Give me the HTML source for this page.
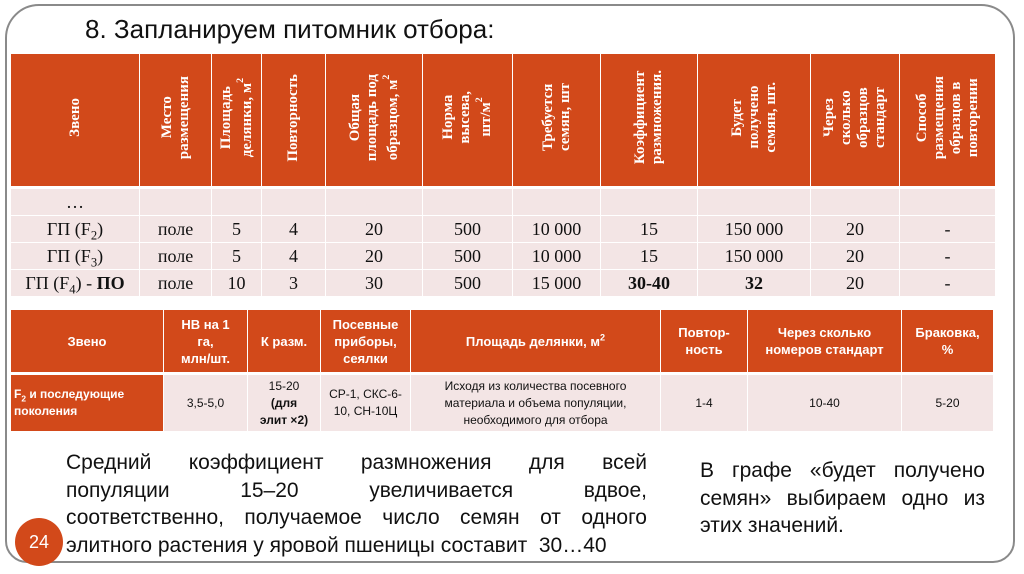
<!DOCTYPE html>
<html><head><meta charset="utf-8"><style>
body{margin:0;width:1024px;height:574px;background:#fff;position:relative;overflow:hidden;font-family:"Liberation Serif",serif}
.frame{position:absolute;left:5px;top:4px;width:1010px;height:559px;border:2px solid #8a8a8a;border-radius:34px 34px 22px 22px;box-sizing:border-box}
.title{position:absolute;left:85px;top:14px;font-family:"Liberation Sans",sans-serif;font-size:26px;color:#111}
table{position:absolute;border-collapse:collapse;table-layout:fixed}
td{padding:0;text-align:center;border:1px solid #fff}
sub,sup{line-height:0;font-size:70%}
.v sup{line-height:normal;font-size:65%;vertical-align:super}
#t1{left:10px;top:53px;width:985px}
#t1 .h td{background:#d2491a;color:#fff;font-weight:bold;font-size:15px;height:132px;border-bottom:3px solid #fff}
.v{writing-mode:vertical-rl;transform:rotate(180deg);display:inline-block;line-height:17px;text-align:center}
#t1 .b td{background:#f3e5e5;font-size:18px;height:26px;border:1px solid #fff;color:#111}
#t2{left:10px;top:309px;width:983px;font-family:"Liberation Sans Narrow","Liberation Sans",sans-serif}
#t2 .h td{background:#d2491a;color:#fff;font-weight:bold;font-size:13px;height:62px;border-bottom:3px solid #fff;line-height:17px}
#t2 .b td{background:#f3e5e5;font-size:12px;height:56px;line-height:17px;color:#111}
.p{position:absolute;font-family:"Liberation Sans Narrow","Liberation Sans",sans-serif;font-size:21px;line-height:27.5px;color:#111}
.p span{display:block;text-align:justify;text-align-last:justify;white-space:nowrap}
.p span.l{text-align-last:left}
.circ{position:absolute;left:15px;top:518px;width:48px;height:48px;border-radius:50%;background:#d2491a;color:#fff;font-family:"Liberation Sans Narrow","Liberation Sans",sans-serif;font-size:18px;text-align:center;line-height:48px}
</style></head><body>
<div class="frame"></div>
<div class="title">8. Запланируем питомник отбора:</div>
<table id="t1">
<colgroup><col style="width:129px"><col style="width:72px"><col style="width:50px"><col style="width:64px"><col style="width:97px"><col style="width:90px"><col style="width:88px"><col style="width:97px"><col style="width:113px"><col style="width:89px"><col style="width:96px"></colgroup>
<tr class="h">
<td><span class="v">Звено</span></td>
<td><span class="v">Место<br>размещения</span></td>
<td><span class="v">Площадь<br>делянки, м<sup>2</sup></span></td>
<td><span class="v">Повторность</span></td>
<td><span class="v">Общая<br>площадь под<br>образцом, м<sup>2</sup></span></td>
<td><span class="v">Норма<br>высева,<br>шт/м<sup>2</sup></span></td>
<td><span class="v">Требуется<br>семян, шт</span></td>
<td><span class="v">Коэффициент<br>размножения.</span></td>
<td><span class="v">Будет<br>получено<br>семян, шт.</span></td>
<td><span class="v">Через<br>сколько<br>образцов<br>стандарт</span></td>
<td><span class="v">Способ<br>размещения<br>образцов в<br>повторении</span></td>
</tr>
<tr class="b"><td>…</td><td></td><td></td><td></td><td></td><td></td><td></td><td></td><td></td><td></td><td></td></tr>
<tr class="b"><td>ГП (F<sub>2</sub>)</td><td>поле</td><td>5</td><td>4</td><td>20</td><td>500</td><td>10 000</td><td>15</td><td>150 000</td><td>20</td><td>-</td></tr>
<tr class="b"><td>ГП (F<sub>3</sub>)</td><td>поле</td><td>5</td><td>4</td><td>20</td><td>500</td><td>10 000</td><td>15</td><td>150 000</td><td>20</td><td>-</td></tr>
<tr class="b"><td>ГП (F<sub>4</sub>) - <b>ПО</b></td><td>поле</td><td>10</td><td>3</td><td>30</td><td>500</td><td>15 000</td><td><b>30-40</b></td><td><b>32</b></td><td>20</td><td>-</td></tr>
</table>
<table id="t2">
<colgroup><col style="width:153px"><col style="width:84px"><col style="width:73px"><col style="width:90px"><col style="width:250px"><col style="width:87px"><col style="width:154px"><col style="width:92px"></colgroup>
<tr class="h"><td>Звено</td><td>НВ на 1<br>га,<br>млн/шт.</td><td>К разм.</td><td>Посевные<br>приборы,<br>сеялки</td><td>Площадь делянки, м<sup>2</sup></td><td>Повтор-<br>ность</td><td>Через сколько<br>номеров стандарт</td><td>Браковка,<br>%</td></tr>
<tr class="b"><td style="background:#d2491a;color:#fff;font-weight:bold;text-align:left;padding-left:3px">F<sub>2</sub> и последующие<br>поколения</td><td>3,5-5,0</td><td>15-20<br><b>(для<br>элит ×2)</b></td><td>СР-1, СКС-6-<br>10, СН-10Ц</td><td>Исходя из количества посевного<br>материала и объема популяции,<br>необходимого для отбора</td><td>1-4</td><td>10-40</td><td>5-20</td></tr>
</table>
<div class="p" style="left:66px;top:449px;width:581px"><span>Средний коэффициент размножения для всей</span><span>популяции 15–20 увеличивается вдвое,</span><span>соответственно, получаемое число семян от одного</span><span class="l">элитного растения у яровой пшеницы составит&nbsp; 30…40</span></div>
<div class="p" style="left:700px;top:457px;width:285px"><span>В графе «будет получено</span><span>семян» выбираем одно из</span><span class="l">этих значений.</span></div>
<div class="circ">24</div>
</body></html>
